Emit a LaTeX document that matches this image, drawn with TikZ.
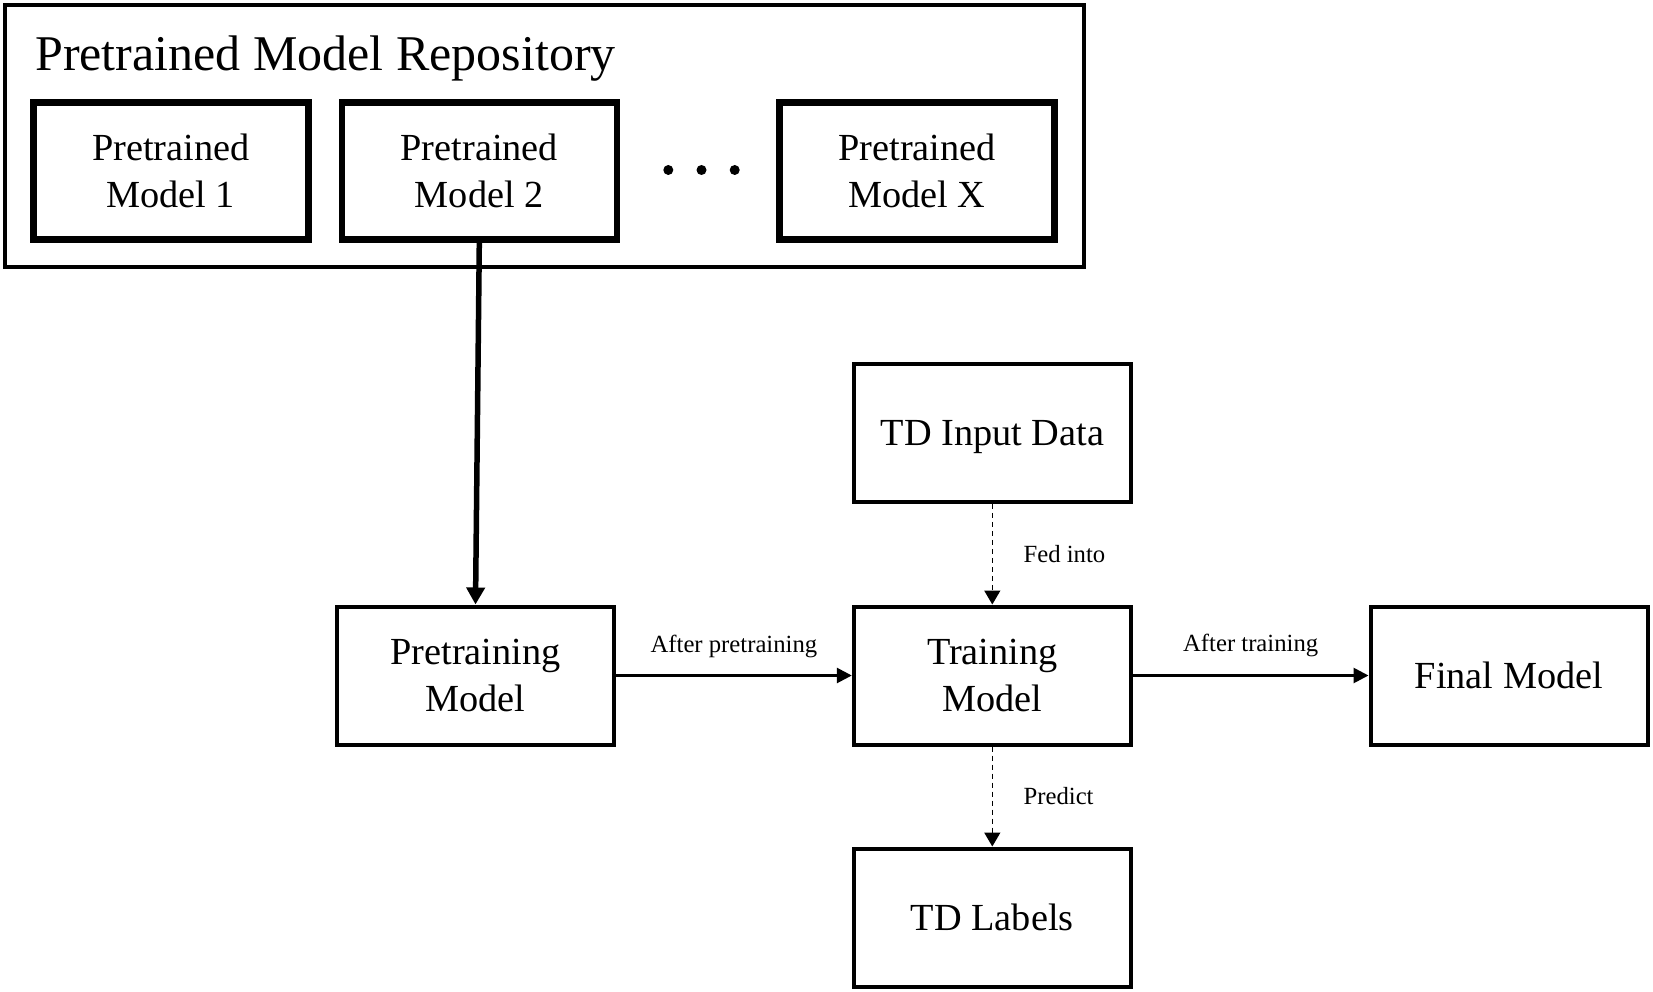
\documentclass[tikz,border=0pt]{standalone}
\usepackage{fontspec}
\setmainfont{Liberation Serif}
\usetikzlibrary{arrows.meta}
\begin{document}
\begin{tikzpicture}[x=1pt,y=1pt,
  boxtext/.style={font=\fontsize{38.3}{46.4}\selectfont, align=center},
  topbox/.style={draw, line width=6.5pt, minimum width=275pt, minimum height=137pt, inner sep=0pt, boxtext},
  flowbox/.style={draw, line width=4pt, minimum width=277pt, minimum height=138pt, inner sep=0pt, boxtext},
  lbl/.style={font=\fontsize{24.7}{28}\selectfont, inner sep=0pt},
  solidarrow/.style={line width=2.7pt, -{Triangle[length=15pt,width=15pt]}},
  thickarrow/.style={line width=5.5pt, -{Triangle[length=17pt,width=18pt]}},
  dasharrow/.style={line width=1.6pt, dash pattern=on 5pt off 4pt, -{Triangle[length=14pt,width=16pt]}},
  dotmark/.style={circle, fill, inner sep=0pt, minimum size=10pt},
]
\useasboundingbox (0,0) rectangle (1653,-992);
\fill[white] (0,0) rectangle (1653,-992);

% repository
\node (repo) [draw, line width=4pt, minimum width=1079pt, minimum height=261.7pt, inner sep=0pt] at (544.9,-136.2) {};
\node (title) [anchor=base west, font=\fontsize{50}{60}\selectfont, inner sep=0pt] at (35,-71) {Pretrained Model Repository};

\node (m1) [topbox] at (170.8,-171) {Pretrained\\Model 1};
\node (m2) [topbox] at (479.3,-171) {Pretrained\\Model 2};
\node (mx) [topbox] at (917,-171) {Pretrained\\Model X};
\node (d1) [dotmark] at (668.3,-170) {};
\node (d2) [dotmark] at (701.5,-170) {};
\node (d3) [dotmark] at (734.7,-170) {};

% flow
\node (pre) [flowbox] at (475.5,-675.5) {Pretraining\\Model};
\node (train) [flowbox] at (992.3,-675.5) {Training\\Model};
\node (tdin) [flowbox, text depth=0pt] at (992.3,-432.8) {TD Input Data};
\node (tdlab) [flowbox] at (992.3,-917.5) {TD Labels};
\node (final) [flowbox] at (1509,-675.5) {Final Model};

\draw[thickarrow] (m2.south) -- (pre.north);
\draw[solidarrow] (pre.east) -- node[lbl, midway, anchor=base, yshift=23.5pt] {After pretraining} (train.west);
\draw[solidarrow] (train.east) -- node[lbl, midway, anchor=base, yshift=24.5pt] {After training} (final.west);
\draw[dasharrow] (tdin.south) -- node[lbl, midway, anchor=west, xshift=30.5pt] {Fed into} (train.north);
\draw[dasharrow] (train.south) -- node[lbl, midway, anchor=west, xshift=30.5pt] {Predict} (tdlab.north);
\end{tikzpicture}
\end{document}
